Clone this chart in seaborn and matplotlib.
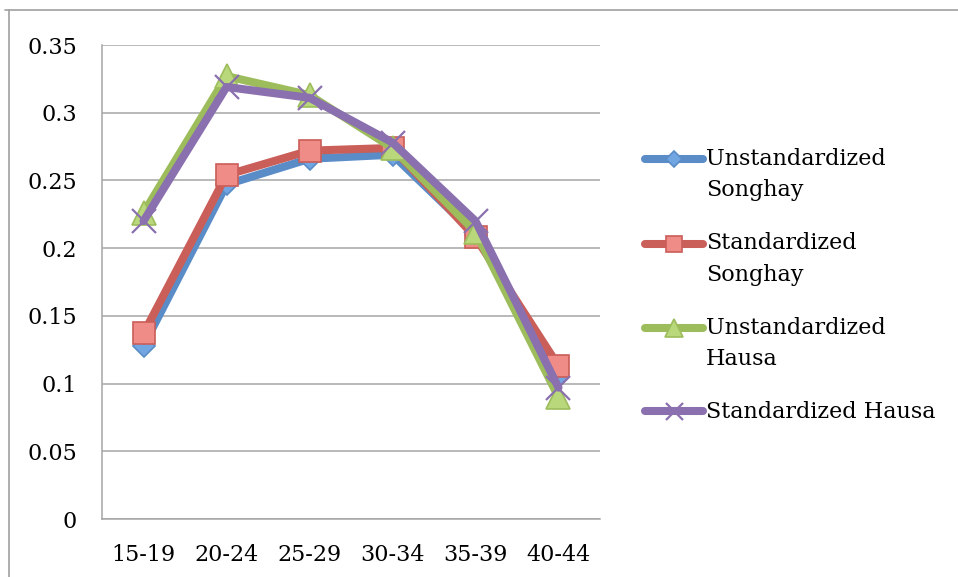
import numpy as np
import pandas as pd
import seaborn as sns
import matplotlib
matplotlib.use("Agg")
import matplotlib.pyplot as plt
from matplotlib.lines import Line2D
from matplotlib.ticker import FuncFormatter

# Age groups and age-specific rates for each series
age_groups = ["15-19", "20-24", "25-29", "30-34", "35-39", "40-44"]
unstd_songhay = [0.128, 0.247, 0.266, 0.269, 0.210, 0.105]
std_songhay = [0.137, 0.254, 0.272, 0.274, 0.208, 0.113]
unstd_hausa = [0.226, 0.327, 0.313, 0.274, 0.212, 0.090]
std_hausa = [0.220, 0.319, 0.311, 0.278, 0.220, 0.097]

series_names = ["Unstandardized\nSonghay", "Standardized\nSonghay",
                "Unstandardized\nHausa", "Standardized Hausa"]
series_values = [unstd_songhay, std_songhay, unstd_hausa, std_hausa]

y_ticks = [0, 0.05, 0.1, 0.15, 0.2, 0.25, 0.3, 0.35]

df = pd.DataFrame({
    "age": np.tile(age_groups, len(series_names)),
    "rate": np.concatenate(series_values),
    "series": np.repeat(series_names, len(age_groups)),
})

sns.set_theme(style="white")
plt.rcParams["font.family"] = ["DejaVu Serif", "DejaVu Sans"]
plt.rcParams["text.color"] = "black"

line_colors = ["#5A8DC8", "#CA5E59", "#9DBD5C", "#8A70AE"]
fill_colors = ["#72A6E2", "#F08C88", "#B9D87C", "#9A7FC0"]
markers = ["D", "s", "^", "x"]
msizes = [11, 16.5, 17.5, 17]

FS = 16

fig = plt.figure(figsize=(9.58, 5.77), dpi=100)
ax = fig.add_axes([0.1065, 0.1005, 0.5198, 0.8215])

for name, lc, fc, mk, ms in zip(series_names, line_colors, fill_colors, markers, msizes):
    sub = df[df["series"] == name]
    kw = dict(markerfacecolor=fc, markeredgecolor=lc, markeredgewidth=1.2)
    if mk == "x":
        kw = dict(markeredgecolor=lc, markeredgewidth=1.6)
    sns.lineplot(data=sub, x="age", y="rate", ax=ax, color=lc, linewidth=5.8,
                 marker=mk, markersize=ms, label=name, sort=False,
                 solid_capstyle="round", solid_joinstyle="round", **kw)

ax.set_xlim(-0.5, len(age_groups) - 0.5)
ax.set_ylim(0, 0.35)
ax.set_yticks(y_ticks)
ax.yaxis.set_major_formatter(FuncFormatter(lambda v, p: f"{v:g}"))
ax.set_xlabel("")
ax.set_ylabel("")

grid_c = "#A6A6A6"
ax.grid(axis="y", color=grid_c, linewidth=1.1)
ax.grid(axis="x", visible=False)
ax.set_axisbelow(True)
for side in ["top", "right"]:
    ax.spines[side].set_visible(False)
for side in ["left", "bottom"]:
    ax.spines[side].set_color(grid_c)
    ax.spines[side].set_linewidth(1.1)

ax.tick_params(axis="y", length=0, pad=18, labelsize=FS, labelcolor="black")
ax.tick_params(axis="x", length=0, pad=18, labelsize=FS, labelcolor="black")

leg = ax.legend(loc="upper left", bbox_to_anchor=(645 / 958, 1 - 148 / 577),
                bbox_transform=fig.transFigure, frameon=False, borderpad=0,
                fontsize=FS, handlelength=2.6, handletextpad=0.15,
                labelspacing=1.4, borderaxespad=0)
for txt in leg.get_texts():
    txt.set_linespacing(1.55)
    txt.set_color("black")

# keep each legend sample level with the first line of its label
for handle, label, ms in zip(leg.legend_handles, series_names, msizes):
    if "\n" in label:
        handle.set_ydata(np.asarray(handle.get_ydata()) + 11.5)
    handle.set_solid_capstyle("round")
    handle.set_markersize(ms * 0.72)

# outer chart frame
frame_c = "#A0A0A0"
fig.add_artist(Line2D([5 / 958, 1.0], [1 - 10 / 577, 1 - 10 / 577],
                      color=frame_c, linewidth=1.2, transform=fig.transFigure))
fig.add_artist(Line2D([9 / 958, 9 / 958], [0, 1 - 10 / 577],
                      color=frame_c, linewidth=1.2, transform=fig.transFigure))

fig.savefig("out.png", dpi=100, facecolor="white")
